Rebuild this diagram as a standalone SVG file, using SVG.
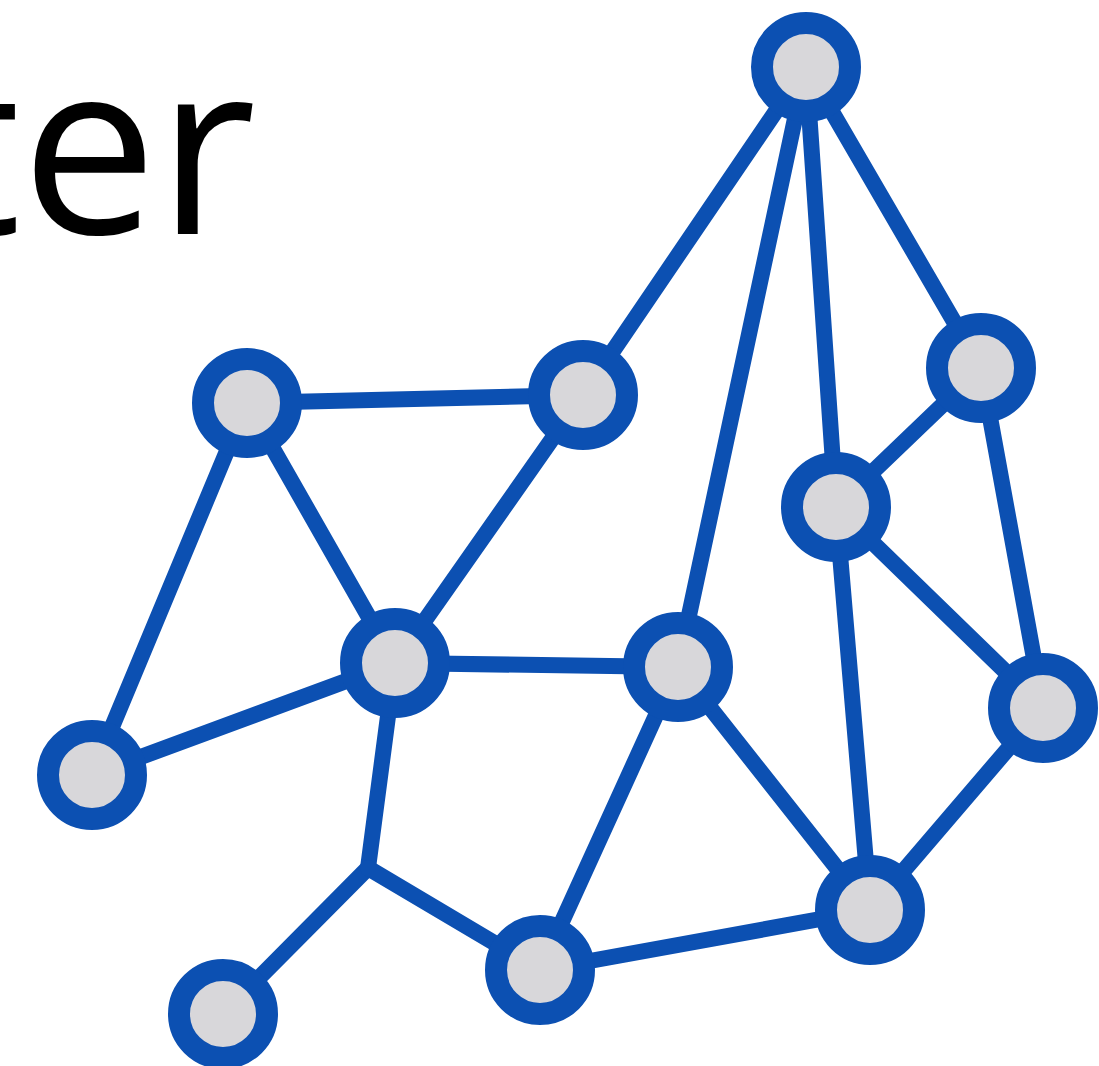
<svg xmlns="http://www.w3.org/2000/svg" width="1099" height="1066" viewBox="0 0 1099 1066">
<style>
.e{stroke:#0c50b2;stroke-width:16;stroke-linecap:round;fill:none}
.n{fill:#d8d7da;stroke:#0c50b2;stroke-width:22}
.t{font-family:"Open Sans","Noto Sans",sans-serif;font-size:242px;fill:#000}
</style>
<rect width="1099" height="1066" fill="#fff"/>
<text class="t" x="-65" y="234">ter</text>
<g id="connectors">
<line class="e" x1="806" y1="67" x2="583" y2="395"/>
<line class="e" x1="806" y1="67" x2="678" y2="667"/>
<line class="e" x1="806" y1="67" x2="836" y2="507"/>
<line class="e" x1="806" y1="67" x2="981" y2="368"/>
<line class="e" x1="247" y1="403" x2="583" y2="395"/>
<line class="e" x1="247" y1="403" x2="395" y2="663"/>
<line class="e" x1="247" y1="403" x2="92" y2="775"/>
<line class="e" x1="583" y1="395" x2="395" y2="663"/>
<line class="e" x1="395" y1="663" x2="678" y2="667"/>
<line class="e" x1="395" y1="663" x2="92" y2="775"/>
<line class="e" x1="395" y1="663" x2="368" y2="868"/>
<line class="e" x1="368" y1="868" x2="223" y2="1014"/>
<line class="e" x1="368" y1="868" x2="540" y2="970"/>
<line class="e" x1="678" y1="667" x2="540" y2="970"/>
<line class="e" x1="678" y1="667" x2="870" y2="910"/>
<line class="e" x1="836" y1="507" x2="981" y2="368"/>
<line class="e" x1="836" y1="507" x2="870" y2="910"/>
<line class="e" x1="836" y1="507" x2="1043" y2="708"/>
<line class="e" x1="981" y1="368" x2="1043" y2="708"/>
<line class="e" x1="1043" y1="708" x2="870" y2="910"/>
<line class="e" x1="540" y1="970" x2="870" y2="910"/>
</g>
<g id="n1"><circle class="n" cx="806" cy="67" r="44"/></g>
<g id="n2"><circle class="n" cx="247" cy="403" r="44"/></g>
<g id="n3"><circle class="n" cx="583" cy="395" r="44"/></g>
<g id="n4"><circle class="n" cx="981" cy="368" r="44"/></g>
<g id="n5"><circle class="n" cx="836" cy="507" r="44"/></g>
<g id="n6"><circle class="n" cx="395" cy="663" r="44"/></g>
<g id="n7"><circle class="n" cx="678" cy="667" r="44"/></g>
<g id="n8"><circle class="n" cx="1043" cy="708" r="44"/></g>
<g id="n9"><circle class="n" cx="92" cy="775" r="44"/></g>
<g id="n10"><circle class="n" cx="870" cy="910" r="44"/></g>
<g id="n11"><circle class="n" cx="540" cy="970" r="44"/></g>
<g id="n12"><circle class="n" cx="223" cy="1014" r="44"/></g>
</svg>
